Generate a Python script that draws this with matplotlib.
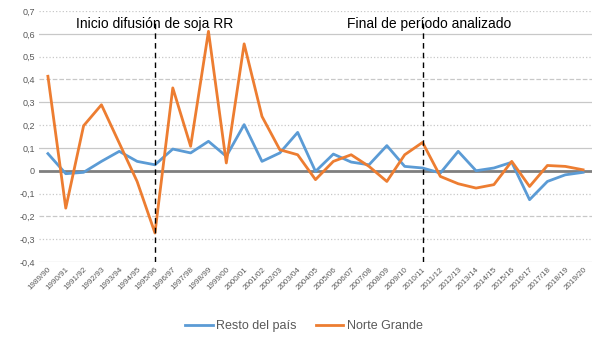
import matplotlib
matplotlib.use("Agg")
import matplotlib.pyplot as plt

plt.rcParams['font.family'] = ['Liberation Sans', 'DejaVu Sans']

campaigns = [f"{y}/{str(y + 1)[-2:]}" for y in range(1989, 2020)]

resto_pais = [0.075, -0.013, -0.007, 0.041, 0.085, 0.041, 0.026, 0.095, 0.078, 0.129,
              0.063, 0.202, 0.041, 0.078, 0.168, -0.003, 0.073, 0.038, 0.026, 0.110,
              0.019, 0.012, -0.010, 0.085, 0.000, 0.012, 0.037, -0.127, -0.047, -0.018,
              -0.007]
norte_grande = [0.414, -0.164, 0.197, 0.289, 0.121, -0.047, -0.273, 0.363, 0.107, 0.611,
                0.034, 0.556, 0.238, 0.092, 0.070, -0.039, 0.041, 0.070, 0.019, -0.047,
                0.070, 0.124, -0.025, -0.057, -0.076, -0.061, 0.041, -0.069, 0.023, 0.019,
                0.004]

y_ticks = [0.7, 0.6, 0.5, 0.4, 0.3, 0.2, 0.1, 0.0, -0.1, -0.2, -0.3, -0.4]
events = [(6, "Inicio difusión de soja RR"), (21, "Final de período analizado")]

fig = plt.figure(figsize=(6.05, 3.4), dpi=100)
ax = fig.add_axes([39 / 605, 1 - 262 / 340, (592 - 39) / 605, (262 - 11) / 340])

grid_styles = {0.7: ':', 0.6: '-', 0.5: ':', 0.4: '--', 0.3: '-', 0.2: ':', 0.1: '-',
               -0.1: ':', -0.2: '--', -0.3: ':', -0.4: '-'}
for v in y_ticks:
    if abs(v) < 1e-9:
        ax.axhline(v, color='#7f7f7f', lw=2.0, zorder=1)
    else:
        ax.axhline(v, color='#c8c8c8', lw=0.9, ls=grid_styles.get(round(v, 1), '-'), zorder=0)

x = list(range(len(campaigns)))
ax.plot(x, resto_pais, color='#5B9BD5', lw=2.0, label='Resto del país', zorder=3)
ax.plot(x, norte_grande, color='#ED7D31', lw=2.0, label='Norte Grande', zorder=4)

for idx, txt in events:
    ax.plot([idx, idx], [-0.4, 0.66], color='black', lw=1.0, ls=(0, (4, 3)), zorder=5)
    ax.text(idx + (0 if idx < 10 else 0.35), 0.642, txt, ha='center', va='center',
            fontsize=10, color='black', zorder=6)

ax.set_xlim(-0.5, len(campaigns) - 0.5)
ax.set_ylim(-0.4, 0.7)
ax.set_yticks(y_ticks)
ax.set_yticklabels([("0" if abs(v) < 1e-9 else f"{v:.1f}".replace('.', ',')) for v in y_ticks],
                   fontsize=6.5, color='#595959')
ax.set_xticks(x)
ax.set_xticklabels(campaigns, rotation=45, ha='right', rotation_mode='anchor',
                   fontsize=5.8, color='#595959')
ax.tick_params(axis='both', length=0, pad=3)
for s in ax.spines.values():
    s.set_visible(False)

leg = fig.legend(loc='center', bbox_to_anchor=(304 / 605, 1 - 326 / 340), ncol=2, frameon=False,
                 fontsize=9, handlelength=2.2, handletextpad=0.3, columnspacing=1.5)
for t in leg.get_texts():
    t.set_color('#595959')

fig.savefig('out.png', dpi=100)
